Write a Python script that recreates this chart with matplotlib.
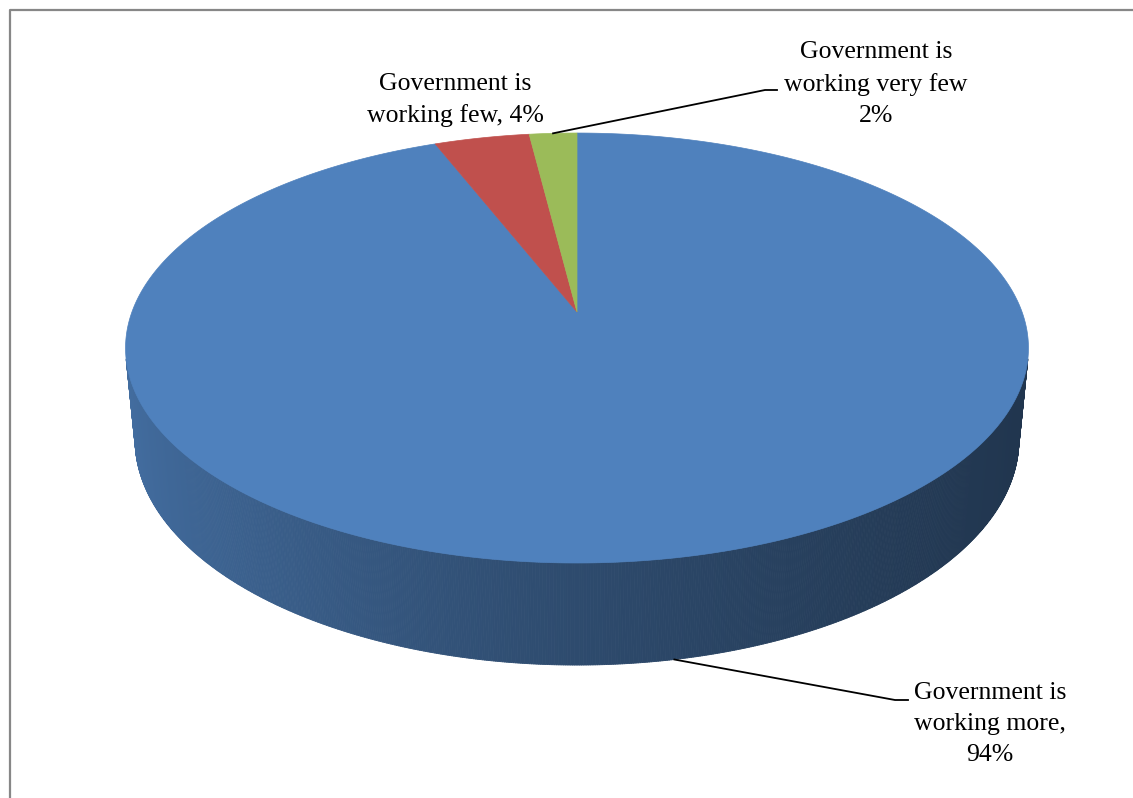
import numpy as np
import matplotlib
matplotlib.use("Agg")
import matplotlib.pyplot as plt
from matplotlib.collections import PolyCollection
from matplotlib.patches import Polygon

# Survey answers (percent of respondents)
categories = ["Government is working more",
              "Government is working few",
              "Government is working very few"]
shares = [94, 4, 2]
label_texts = ["Government is\nworking more,\n94%",
               "Government is\nworking few, 4%",
               "Government is\nworking very few\n2%"]
top_colors = ["#4F81BD", "#C0504D", "#9BBB59"]

W, H = 1133, 798
fig = plt.figure(figsize=(W / 100, H / 100), dpi=100)
ax = fig.add_axes([0, 0, 1, 1])
ax.set_xlim(0, W)
ax.set_ylim(H, 0)
ax.axis("off")

# Perspective camera for the 3-D pie (unit-radius disc, top face at z=0)
tilt = np.radians(28)
s, c = np.sin(tilt), np.cos(tilt)
dist = 5.271
focal = 2346.0
cx, cy = 577.0, 312.0
thick = 0.235


def project(x, y, z):
    depth = dist + c * y - s * z
    return cx + focal * x / depth, cy - focal * (s * y + c * z) / depth


def rim(a, z=0.0):
    # a: angle measured clockwise from 12 o'clock
    return project(np.sin(a), np.cos(a), z)


# Side wall: only the part facing the camera, shaded by its orientation
base_rgb = np.array(matplotlib.colors.to_rgb(top_colors[0]))
angles = np.linspace(0, 2 * np.pi, 1441)
limit = -1.0 / (dist * c)
strips, shades = [], []
for a0, a1 in zip(angles[:-1], angles[1:]):
    am = 0.5 * (a0 + a1)
    if np.cos(am) >= limit:
        continue
    p0, p1 = rim(a0), rim(a1)
    q1, q0 = rim(a1, -thick), rim(a0, -thick)
    strips.append([p0, p1, q1, q0])
    nx = np.sin(am)
    f = 0.58 - 0.22 * nx + 0.05 * nx ** 2
    shades.append(np.clip(base_rgb * f, 0, 1))
side = PolyCollection(strips, facecolors=shades, edgecolors=shades, linewidths=0.6)
ax.add_collection(side)

# Top face wedges, clockwise from 12 o'clock
fractions = np.array(shares, dtype=float) / np.sum(shares)
bounds = np.concatenate([[0], np.cumsum(fractions)]) * 2 * np.pi
apex = project(0, 0, 0)
for (a0, a1), col in zip(zip(bounds[:-1], bounds[1:]), top_colors):
    arc = np.linspace(a0, a1, max(3, int((a1 - a0) / (2 * np.pi) * 720)))
    pts = [apex] + [rim(a) for a in arc]
    ax.add_patch(Polygon(pts, closed=True, facecolor=col, edgecolor=col, linewidth=0.5))

# Data labels
font = dict(family="Liberation Serif", fontsize=18.5, ha="center", va="center",
            multialignment="center", linespacing=1.52, color="black")
ax.text(990, 724, label_texts[0], **font)
ax.text(455, 100, label_texts[1], **font)
ax.text(876, 84, label_texts[2], **font)

# Leader lines from slices to their labels
mid_angles = 0.5 * (bounds[:-1] + bounds[1:])
gx, gy = rim(mid_angles[2])
ax.plot([gx, 765, 777], [gy, 90, 90], color="black", lw=1.3, solid_joinstyle="miter")
bx, by = rim(mid_angles[0], -thick)
ax.plot([bx, 895, 908], [by, 700, 700], color="black", lw=1.3, solid_joinstyle="miter")

# Chart area border
ax.plot([10, 10, W + 5], [H + 5, 10, 10], color="#878787", lw=1.6, clip_on=False)

fig.savefig("out.png", dpi=100)
